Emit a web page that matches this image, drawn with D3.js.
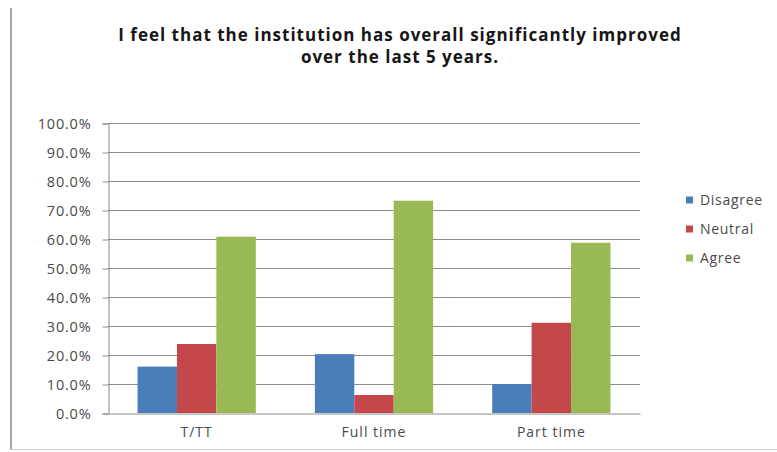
<!DOCTYPE html>
<html>
<head>
<meta charset="utf-8">
<script src="https://cdn.jsdelivr.net/npm/d3@7"></script>
<style>
  html, body { margin: 0; padding: 0; background: #fff; }
  svg { display: block; }
</style>
</head>
<body>
<svg id="chart" width="777" height="452"></svg>
<script>
// Survey responses by staff category (share of respondents)
const categories = ["T/TT", "Full time", "Part time"];
const seriesNames = ["Disagree", "Neutral", "Agree"];
const disagree = [0.16, 0.203, 0.10];
const neutral  = [0.238, 0.062, 0.311];
const agree    = [0.608, 0.732, 0.587];
const yTicks = [0, 0.1, 0.2, 0.3, 0.4, 0.5, 0.6, 0.7, 0.8, 0.9, 1.0];
const titleLines = ["I feel that the institution has overall significantly improved", "over the last 5 years."];

const colors = ["#4a7ebb", "#c4474a", "#98b954"];
const values = [disagree, neutral, agree];

const svg = d3.select("#chart");
const W = 777, H = 452;
const plot = { left: 108, right: 640, top: 123, bottom: 413 };
const labelFont = "'Open Sans', 'DejaVu Sans', sans-serif";

// outer frame
svg.append("rect").attr("width", W).attr("height", H).attr("fill", "#fff");
svg.append("line").attr("x1", 11).attr("x2", 11).attr("y1", 8).attr("y2", 450)
  .attr("stroke", "#8a8a8a").attr("stroke-width", 1.5);
svg.append("line").attr("x1", 11).attr("x2", 777).attr("y1", 449.5).attr("y2", 449.5)
  .attr("stroke", "#cfcfcf").attr("stroke-width", 1);

// title
svg.append("g").selectAll("text").data(titleLines).join("text")
  .attr("x", 400).attr("y", (d, i) => 41 + i * 22)
  .attr("text-anchor", "middle")
  .attr("font-family", labelFont)
  .attr("font-weight", "bold").attr("font-size", 17)
  .attr("letter-spacing", 1)
  .attr("fill", "#161616")
  .text(d => d);

const x0 = d3.scaleBand().domain(categories)
  .range([plot.left, plot.right]).paddingInner(1 / 3).paddingOuter(1 / 6);
const x1 = d3.scaleBand().domain(seriesNames).range([0, x0.bandwidth()]);
const y = d3.scaleLinear().domain([0, 1]).range([plot.bottom, plot.top]);

// gridlines
svg.append("g").selectAll("line").data(yTicks.slice(1)).join("line")
  .attr("x1", plot.left).attr("x2", plot.right)
  .attr("y1", d => Math.round(y(d)) + 0.5).attr("y2", d => Math.round(y(d)) + 0.5)
  .attr("stroke", "#8c8c8c").attr("stroke-width", 1);

// y axis
const yAxis = d3.axisLeft(y).tickValues(yTicks)
  .tickFormat(d3.format(".1%")).tickSize(6).tickPadding(11);
const gy = svg.append("g").attr("transform", `translate(${plot.left + 0.5},0.5)`).call(yAxis);
gy.select(".domain").attr("stroke", "#8c8c8c");
gy.selectAll(".tick line").attr("stroke", "#8c8c8c");
gy.selectAll(".tick text")
  .attr("font-family", labelFont)
  .attr("font-size", 14.5).attr("letter-spacing", 0.8).attr("fill", "#4a4a4a");

// bars
const groups = svg.append("g").selectAll("g").data(categories).join("g")
  .attr("transform", c => `translate(${x0(c)},0)`);
groups.selectAll("rect")
  .data((c, ci) => seriesNames.map((s, si) => ({ s, v: values[si][ci], color: colors[si] })))
  .join("rect")
  .attr("x", d => x1(d.s))
  .attr("width", x1.bandwidth())
  .attr("y", d => y(d.v))
  .attr("height", d => y(0) - y(d.v))
  .attr("fill", d => d.color);

// x axis
const xAxis = d3.axisBottom(x0).tickSize(0).tickPadding(14);
const gx = svg.append("g").attr("transform", `translate(0,${plot.bottom + 0.5})`).call(xAxis);
gx.select(".domain").attr("stroke", "#8c8c8c");
gx.selectAll(".tick text")
  .attr("font-family", labelFont)
  .attr("font-size", 14).attr("letter-spacing", 1).attr("fill", "#4a4a4a");

// legend
const legend = svg.append("g").attr("transform", "translate(686,200)");
const items = legend.selectAll("g").data(seriesNames).join("g")
  .attr("transform", (d, i) => `translate(0,${i * 29})`);
items.append("rect").attr("x", 0).attr("y", -3.5).attr("width", 7).attr("height", 7)
  .attr("fill", (d, i) => colors[i]);
items.append("text").attr("x", 14).attr("y", 5)
  .attr("font-family", labelFont)
  .attr("font-size", 14).attr("letter-spacing", 0.7).attr("fill", "#4a4a4a")
  .text(d => d);
</script>
</body>
</html>
